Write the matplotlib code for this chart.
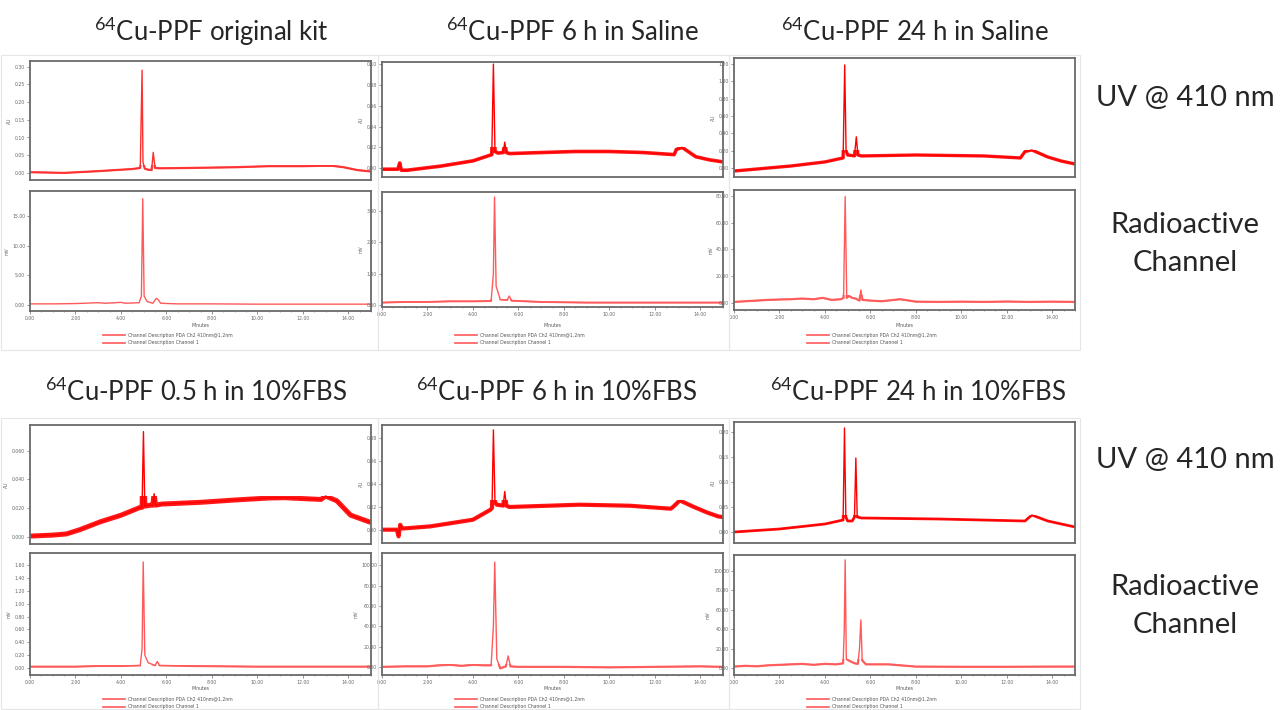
import matplotlib
matplotlib.use("Agg")
import matplotlib.pyplot as plt
from matplotlib.ticker import MultipleLocator, AutoMinorLocator
from matplotlib.lines import Line2D
from matplotlib.patches import Rectangle

W, H = 1283, 710

# ---- data (time in minutes) ----
# top row: original kit / 6 h saline / 24 h saline
kit_uv_t = [0, 0.8, 1.5, 3.0, 4.5, 4.85, 4.93, 4.97, 5.05, 5.2, 5.35, 5.42, 5.5, 5.7, 7.0, 9.0, 10.5, 12.0, 12.8, 13.3, 13.8, 14.4, 15.0]
kit_uv_v = [0.002, 0.001, 0.0, 0.005, 0.011, 0.014, 0.29, 0.03, 0.012, 0.009, 0.008, 0.058, 0.014, 0.013, 0.014, 0.016, 0.019, 0.019, 0.02, 0.02, 0.016, 0.008, 0.004]
kit_ra_t = [0, 1.0, 2.0, 3.0, 3.3, 4.0, 4.2, 4.8, 4.9, 4.96, 5.02, 5.15, 5.4, 5.55, 5.62, 5.75, 6.5, 8, 10, 12, 14, 15]
kit_ra_v = [0.2, 0.2, 0.25, 0.4, 0.3, 0.45, 0.3, 0.4, 1.5, 17.9, 1.5, 0.6, 0.3, 1.1, 1.0, 0.3, 0.2, 0.2, 0.15, 0.15, 0.15, 0.15]

sal6_uv_t = [0, 0.7, 0.78, 0.85, 1.1, 2.6, 4.0, 4.83, 4.9, 4.97, 5.1, 5.33, 5.4, 5.47, 5.6, 7.0, 8.5, 10.0, 11.5, 12.85, 12.95, 13.2, 13.8, 14.4, 15.0]
sal6_uv_v = [-0.001, -0.001, 0.005, -0.002, -0.002, 0.002, 0.007, 0.013, 0.100, 0.016, 0.0145, 0.015, 0.025, 0.015, 0.014, 0.015, 0.016, 0.016, 0.015, 0.013, 0.018, 0.020, 0.011, 0.008, 0.006]
sal6_ra_t = [0, 1, 2, 3, 4, 4.8, 4.9, 4.95, 5.02, 5.2, 5.5, 5.6, 5.7, 7, 9, 11, 13, 15]
sal6_ra_v = [0.08, 0.1, 0.1, 0.12, 0.12, 0.13, 1.0, 3.43, 0.6, 0.18, 0.16, 0.29, 0.14, 0.1, 0.08, 0.08, 0.08, 0.08]

sal24_uv_t = [0, 1.0, 2.5, 4.0, 4.8, 4.87, 4.93, 5.0, 5.3, 5.38, 5.45, 5.6, 8.0, 11.0, 12.6, 12.8, 13.1, 13.8, 14.4, 15.0]
sal24_uv_v = [-0.035, -0.012, 0.023, 0.07, 0.116, 1.19, 0.2, 0.15, 0.14, 0.36, 0.15, 0.139, 0.15, 0.139, 0.116, 0.19, 0.208, 0.127, 0.08, 0.046]
sal24_ra_t = [0, 0.5, 1.0, 1.5, 2.0, 2.5, 3.0, 3.5, 3.9, 4.3, 4.7, 4.82, 4.89, 4.96, 5.05, 5.2, 5.35, 5.52, 5.58, 5.65, 6.0, 6.5, 7.3, 8.0, 9.0, 10.0, 11.0, 12.0, 13.0, 14.0, 15.0]
sal24_ra_v = [1.0, 1.5, 2.0, 2.5, 2.8, 3.0, 3.5, 3.0, 4.0, 2.5, 3.0, 4.0, 79.3, 4.0, 5.5, 4.0, 3.5, 2.0, 9.9, 2.5, 2.0, 1.5, 3.0, 1.2, 1.0, 1.2, 1.0, 1.3, 1.0, 1.2, 1.0]

# bottom row: 0.5 h / 6 h / 24 h in 10% FBS
fbs05_uv_t = [0, 1.0, 1.6, 2.2, 3.1, 4.0, 4.85, 4.93, 4.99, 5.05, 5.3, 5.4, 5.46, 5.52, 5.8, 7.5, 9.0, 10.5, 11.2, 12.8, 13.0, 13.5, 14.1, 14.9, 15.0]
fbs05_uv_v = [0.0005, 0.0012, 0.002, 0.005, 0.0105, 0.015, 0.0205, 0.0205, 0.0732, 0.0214, 0.022, 0.022, 0.030, 0.022, 0.0228, 0.024, 0.0256, 0.027, 0.0272, 0.026, 0.0284, 0.025, 0.0151, 0.0105, 0.010]
fbs05_ra_t = [0, 2, 3, 4, 4.85, 4.93, 4.98, 5.05, 5.2, 5.5, 5.6, 5.7, 7, 10, 13, 15]
fbs05_ra_v = [0.02, 0.02, 0.03, 0.03, 0.04, 0.3, 1.65, 0.2, 0.08, 0.04, 0.1, 0.04, 0.03, 0.02, 0.02, 0.02]

fbs6_uv_t = [0, 0.65, 0.73, 0.8, 0.9, 2.13, 4.0, 4.77, 4.84, 4.9, 4.97, 5.05, 5.33, 5.4, 5.47, 5.6, 8.7, 10.9, 12.7, 12.8, 13.1, 13.7, 14.3, 14.8, 15.0]
fbs6_uv_v = [0, 0.0, -0.0058, 0.0043, 0.001, 0.0029, 0.0087, 0.0174, 0.019, 0.087, 0.024, 0.0218, 0.021, 0.0333, 0.021, 0.0198, 0.0218, 0.0209, 0.0183, 0.0198, 0.0255, 0.0200, 0.015, 0.0115, 0.011]
fbs6_ra_t = [0, 1, 2, 2.5, 3, 3.5, 4, 4.5, 4.8, 4.9, 4.96, 5.05, 5.2, 5.45, 5.55, 5.65, 6, 8, 10, 12, 14, 15]
fbs6_ra_v = [0, 0.5, 0.5, 1.5, 2.0, 1.0, 2.0, 1.5, 1.5, 40, 103, 8, -1.5, 0.5, 10.8, 0.5, 0, 0, -0.5, 0, 0.5, 0]

fbs24_uv_t = [0, 2.0, 4.0, 4.8, 4.86, 4.92, 5.0, 5.2, 5.3, 5.36, 5.42, 5.6, 9.0, 12.8, 13.1, 13.8, 15.0]
fbs24_uv_v = [0, 0.006, 0.016, 0.024, 0.208, 0.03, 0.022, 0.022, 0.03, 0.148, 0.03, 0.028, 0.026, 0.022, 0.034, 0.022, 0.010]
fbs24_ra_t = [0, 0.5, 1.0, 1.5, 2.0, 2.5, 3.0, 3.5, 4.0, 4.5, 4.8, 4.85, 4.89, 4.94, 5.0, 5.3, 5.45, 5.52, 5.58, 5.64, 5.8, 6.8, 8.0, 10.0, 12.0, 14.0, 15.0]
fbs24_ra_v = [1.7, 2.5, 2.0, 3.0, 3.5, 4.0, 4.5, 3.5, 4.5, 4.0, 5.0, 40, 111, 10, 8.5, 5.1, 4.5, 20, 49.5, 8, 4.0, 4.0, 1.7, 1.5, 1.5, 1.7, 1.7]

titles_top = ["Cu-PPF original kit", "Cu-PPF 6 h in Saline", "Cu-PPF 24 h in Saline"]
titles_bot = ["Cu-PPF 0.5 h in 10%FBS", "Cu-PPF 6 h in 10%FBS", "Cu-PPF 24 h in 10%FBS"]
legend_lbl = ["Channel Description PDA Ch2 410nm@1.2nm", "Channel Description Channel 1"]

plt.rcParams['font.family'] = ['Lato', 'DejaVu Sans']
plt.rcParams['mathtext.fontset'] = 'custom'
plt.rcParams['mathtext.rm'] = 'Lato'
plt.rcParams['mathtext.it'] = 'Lato'

fig = plt.figure(figsize=(W / 100, H / 100), dpi=100)
fig.patch.set_facecolor('white')


def box(x0, y0, x1, y1):
    return [x0 / W, 1 - y1 / H, (x1 - x0) / W, (y1 - y0) / H]


def panel(rect, t, v, ylim, ystep, fmt, ylab, color, bottom, band=None):
    ax = fig.add_axes(box(*rect))
    ax.plot(t, v, color=color, lw=1.0)
    if band is not None:
        # noisy baseline drawn as a thicker band, clipped below the peaks
        band_top, band_lw = band
        ln, = ax.plot(t, v, color=color, lw=band_lw, alpha=0.9, solid_capstyle='butt')
        clip = Rectangle((0, ylim[0] - 1), 15, band_top - ylim[0] + 1,
                         transform=ax.transData)
        ln.set_clip_path(clip)
    ax.set_xlim(0, 15)
    ax.set_ylim(ylim)
    ax.yaxis.set_major_locator(MultipleLocator(ystep))
    ax.yaxis.set_minor_locator(AutoMinorLocator(5))
    ax.yaxis.set_major_formatter(lambda y, p: fmt.format(y))
    for s in ax.spines.values():
        s.set_color('#6a6a6a')
        s.set_linewidth(1.3)
    ax.tick_params(axis='y', which='major', labelsize=3.3, length=2, width=0.5,
                   colors='#666666', pad=1.5)
    ax.tick_params(axis='y', which='minor', length=1, width=0.4, colors='#666666')
    ax.set_ylabel(ylab, fontsize=3.3, color='#666666', labelpad=2, family='DejaVu Sans')
    if bottom:
        ax.xaxis.set_major_locator(MultipleLocator(2))
        ax.xaxis.set_minor_locator(MultipleLocator(0.5))
        ax.xaxis.set_major_formatter(lambda x, p: "%.2f" % x)
        ax.tick_params(axis='x', which='major', labelsize=3.3, length=2, width=0.5,
                       colors='#666666', pad=1.5)
        ax.tick_params(axis='x', which='minor', length=1, width=0.4, colors='#666666')
    else:
        ax.set_xticks([])
    for lab in ax.get_yticklabels() + ax.get_xticklabels():
        lab.set_family('DejaVu Sans')
    return ax


uv_red = '#ff0000'
ra_red = '#ff5a5a'

# column x-extents (pixels)
cols = [(30, 371), (382, 723), (734, 1075)]

# top row
panel((30, 61, 371, 180), kit_uv_t, kit_uv_v, (-0.02, 0.316), 0.05, "{:.2f}", "AU", '#ff3030', False, (0.021, 1.6))
panel((30, 191, 371, 311), kit_ra_t, kit_ra_v, (-1.0, 19.2), 5, "{:.2f}", "mV", ra_red, True)
panel((382, 62, 723, 177), sal6_uv_t, sal6_uv_v, (-0.0085, 0.102), 0.02, "{:.2f}", "AU", uv_red, False, (0.0205, 2.6))
panel((382, 192, 723, 307), sal6_ra_t, sal6_ra_v, (-0.06, 3.59), 1, "{:.2f}", "mV", ra_red, True, (0.2, 1.4))
panel((734, 58, 1075, 177), sal24_uv_t, sal24_uv_v, (-0.104, 1.27), 0.2, "{:.2f}", "AU", uv_red, False, (0.21, 2.4))
panel((734, 190, 1075, 310), sal24_ra_t, sal24_ra_v, (-5, 84.2), 20, "{:.2f}", "mV", ra_red, True, (6, 1.6))

# bottom row
panel((30, 425, 371, 544), fbs05_uv_t, fbs05_uv_v, (-0.005, 0.0778), 0.02, "{:.3f}", "AU", uv_red, False, (0.0286, 3.6))
panel((30, 553, 371, 675), fbs05_ra_t, fbs05_ra_v, (-0.11, 1.79), 0.2, "{:.2f}", "mV", ra_red, True, (0.05, 1.5))
panel((382, 425, 723, 543), fbs6_uv_t, fbs6_uv_v, (-0.0116, 0.0913), 0.02, "{:.2f}", "AU", uv_red, False, (0.026, 3.0))
panel((382, 553, 723, 675), fbs6_ra_t, fbs6_ra_v, (-8, 112), 20, "{:.2f}", "mV", ra_red, True, (3, 1.6))
panel((734, 422, 1075, 543), fbs24_uv_t, fbs24_uv_v, (-0.022, 0.22), 0.05, "{:.2f}", "AU", uv_red, False, (0.035, 2.0))
panel((734, 555, 1075, 675), fbs24_ra_t, fbs24_ra_v, (-6.9, 116), 20, "{:.2f}", "mV", ra_red, True, (9, 1.6))

# light outline around each screenshot block
for y0, y1 in [(55, 350), (418, 709)]:
    for x0, x1 in [(1, 378), (378, 729), (729, 1080)]:
        fig.patches.append(Rectangle((x0 / W, 1 - y1 / H), (x1 - x0) / W, (y1 - y0) / H,
                                     transform=fig.transFigure, fill=False,
                                     edgecolor='#e6e6e6', lw=0.8))

# "Minutes" + legends under each radio panel
for yb in [311, 675]:
    for (x0, x1) in cols:
        fig.text((x0 + x1) / 2 / W, 1 - (yb + 14) / H, "Minutes", fontsize=3.3,
                 ha='center', va='center', color='#555555', family='DejaVu Sans')
        for k, lbl in enumerate(legend_lbl):
            yy = 1 - (yb + 24 + 7.5 * k) / H
            fig.lines.append(Line2D([(x0 + 73) / W, (x0 + 95) / W], [yy, yy],
                                    transform=fig.transFigure, color=ra_red, lw=1.2))
            fig.text((x0 + 98) / W, yy, lbl, fontsize=3.3, va='center',
                     color='#555555', family='DejaVu Sans')

# panel titles
title_x_top = [211, 572, 915]
title_x_bot = [196, 557, 918]
for xs, yc, titles in [(title_x_top, 32, titles_top), (title_x_bot, 392, titles_bot)]:
    for xc, ttl in zip(xs, titles):
        fig.text(xc / W, 1 - yc / H, r"$^{64}$" + ttl, fontsize=18.5, ha='center',
                 va='center', color='#262626')

# row labels on the right
for yc in [98, 460]:
    fig.text(1185 / W, 1 - yc / H, "UV @ 410 nm", fontsize=21, ha='center',
             va='center', color='#262626')
for yc in [244, 606]:
    fig.text(1185 / W, 1 - yc / H, "Radioactive\nChannel", fontsize=21, ha='center',
             va='center', color='#262626', linespacing=1.6)

fig.savefig("out.png", dpi=100)
